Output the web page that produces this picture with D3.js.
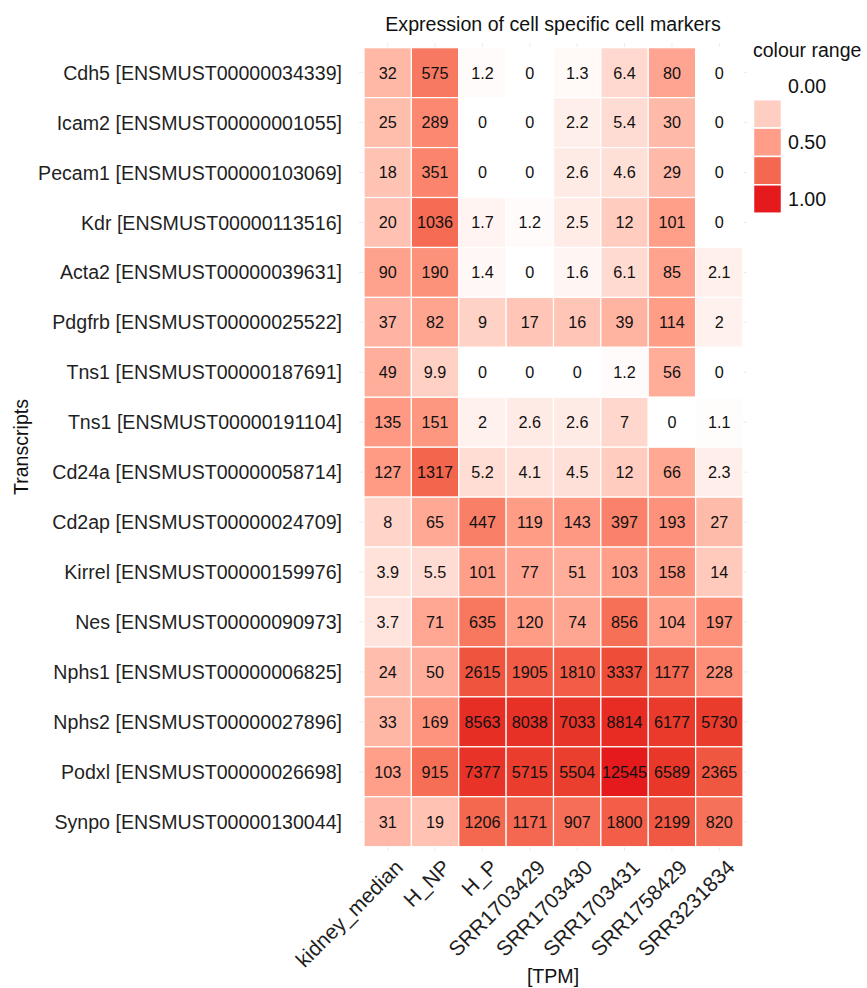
<!DOCTYPE html>
<html>
<head>
<meta charset="utf-8">
<script src="https://cdn.jsdelivr.net/npm/d3@7"></script>
<style>
  body { margin: 0; background: #fff; }
  svg text { font-family: "Liberation Sans", Arial, sans-serif; }
</style>
</head>
<body>
<svg id="chart" width="867" height="988"></svg>
<script>
// sample columns
var samples = ["kidney_median", "H_NP", "H_P", "SRR1703429", "SRR1703430", "SRR1703431", "SRR1758429", "SRR3231834"]

// transcripts, top to bottom
var transcripts = [
  "Cdh5 [ENSMUST00000034339]",
  "Icam2 [ENSMUST00000001055]",
  "Pecam1 [ENSMUST00000103069]",
  "Kdr [ENSMUST00000113516]",
  "Acta2 [ENSMUST00000039631]",
  "Pdgfrb [ENSMUST00000025522]",
  "Tns1 [ENSMUST00000187691]",
  "Tns1 [ENSMUST00000191104]",
  "Cd24a [ENSMUST00000058714]",
  "Cd2ap [ENSMUST00000024709]",
  "Kirrel [ENSMUST00000159976]",
  "Nes [ENSMUST00000090973]",
  "Nphs1 [ENSMUST00000006825]",
  "Nphs2 [ENSMUST00000027896]",
  "Podxl [ENSMUST00000026698]",
  "Synpo [ENSMUST00000130044]"
]

// TPM per sample (same order as transcripts)
var kidney_median = [32, 25, 18, 20, 90, 37, 49, 135, 127, 8, 3.9, 3.7, 24, 33, 103, 31]
var H_NP          = [575, 289, 351, 1036, 190, 82, 9.9, 151, 1317, 65, 5.5, 71, 50, 169, 915, 19]
var H_P           = [1.2, 0, 0, 1.7, 1.4, 9, 0, 2, 5.2, 447, 101, 635, 2615, 8563, 7377, 1206]
var SRR1703429    = [0, 0, 0, 1.2, 0, 17, 0, 2.6, 4.1, 119, 77, 120, 1905, 8038, 5715, 1171]
var SRR1703430    = [1.3, 2.2, 2.6, 2.5, 1.6, 16, 0, 2.6, 4.5, 143, 51, 74, 1810, 7033, 5504, 907]
var SRR1703431    = [6.4, 5.4, 4.6, 12, 6.1, 39, 1.2, 7, 12, 397, 103, 856, 3337, 8814, 12545, 1800]
var SRR1758429    = [80, 30, 29, 101, 85, 114, 56, 0, 66, 193, 158, 104, 1177, 6177, 6589, 2199]
var SRR3231834    = [0, 0, 0, 0, 2.1, 2, 0, 1.1, 2.3, 27, 14, 197, 228, 5730, 2365, 820]

var legendKeys = [0.25, 0.5, 0.75, 1]
var legendBreaks = [0, 0.5, 1]

var columns = [kidney_median, H_NP, H_P, SRR1703429, SRR1703430, SRR1703431, SRR1758429, SRR3231834]

// build long table
var cells = []
samples.forEach(function(s, j){
  transcripts.forEach(function(t, i){
    cells.push({sample: s, transcript: t, value: columns[j][i]})
  })
})

var maxLog = Math.log10(d3.max(cells, d => d.value))
var colour = d3.scaleLinear().domain([0, 1]).range(["#ffffff", "#e41a1c"]).interpolate(d3.interpolateLab)
function fillOf(v){
  if (v <= 0) return "#ffffff"   // log(0) is NA -> blank
  return colour(Math.log10(v) / maxLog)
}

var svg = d3.select("#chart")

var x = d3.scaleBand().domain(samples).range([364, 743])
var y = d3.scaleBand().domain(transcripts).range([47.7, 846.7])

var panel = {left: 359, right: 747, top: 43, bottom: 851}

// grid lines (theme_minimal)
svg.append("g").selectAll("line.v").data(samples).enter().append("line")
  .attr("x1", d => x(d) + x.bandwidth() / 2).attr("x2", d => x(d) + x.bandwidth() / 2)
  .attr("y1", panel.top).attr("y2", panel.bottom)
  .attr("stroke", "#ebebeb").attr("stroke-width", 1)
svg.append("g").selectAll("line.h").data(transcripts).enter().append("line")
  .attr("y1", d => y(d) + y.bandwidth() / 2).attr("y2", d => y(d) + y.bandwidth() / 2)
  .attr("x1", panel.left).attr("x2", panel.right)
  .attr("stroke", "#ebebeb").attr("stroke-width", 1)

// tiles
svg.append("g").selectAll("rect").data(cells).enter().append("rect")
  .attr("x", d => x(d.sample))
  .attr("y", d => y(d.transcript))
  .attr("width", x.bandwidth())
  .attr("height", y.bandwidth())
  .attr("fill", d => fillOf(d.value))
  .attr("stroke", "#ffffff")
  .attr("stroke-width", 1.2)

// values
svg.append("g").selectAll("text").data(cells).enter().append("text")
  .attr("x", d => x(d.sample) + x.bandwidth() / 2)
  .attr("y", d => y(d.transcript) + y.bandwidth() / 2)
  .attr("dy", "0.36em")
  .attr("text-anchor", "middle")
  .attr("font-size", 16.2)
  .attr("fill", "#111")
  .text(d => d.value)

// y labels
svg.append("g").selectAll("text").data(transcripts).enter().append("text")
  .attr("x", 342)
  .attr("y", d => y(d) + y.bandwidth() / 2)
  .attr("dy", "0.36em")
  .attr("text-anchor", "end")
  .attr("font-size", 19.6)
  .attr("fill", "#1f1f1f")
  .text(d => d)

// x labels rotated
svg.append("g").selectAll("text").data(samples).enter().append("text")
  .attr("transform", d => "translate(" + (x(d) + x.bandwidth() / 2 + 6) + ",858) rotate(-45)")
  .attr("dy", "0.72em")
  .attr("text-anchor", "end")
  .attr("font-size", 21)
  .attr("fill", "#1f1f1f")
  .text(d => d)

// titles
svg.append("text").attr("x", 553).attr("y", 31).attr("text-anchor", "middle")
  .attr("font-size", 19.6).attr("fill", "#111").text("Expression of cell specific cell markers")
svg.append("text").attr("x", 553).attr("y", 983).attr("text-anchor", "middle")
  .attr("font-size", 19.6).attr("fill", "#111").text("[TPM]")
svg.append("text").attr("transform", "translate(28,447) rotate(-90)").attr("text-anchor", "middle")
  .attr("font-size", 19.6).attr("fill", "#111").text("Transcripts")

// legend
var yl = d3.scaleLinear().domain([0, 1]).range([85.5, 199])
var keyH = yl(legendKeys[1]) - yl(legendKeys[0])
svg.append("text").attr("x", 753).attr("y", 57).attr("font-size", 19.5).attr("fill", "#111").text("colour range")
svg.append("g").selectAll("rect").data(legendKeys).enter().append("rect")
  .attr("x", 753.5).attr("y", d => yl(d) - keyH / 2)
  .attr("width", 28).attr("height", keyH)
  .attr("fill", d => colour(d))
  .attr("stroke", "#ffffff").attr("stroke-width", 1.5)
svg.append("g").selectAll("text").data(legendBreaks).enter().append("text")
  .attr("x", 788).attr("y", d => yl(d)).attr("dy", "0.36em")
  .attr("font-size", 19.6).attr("fill", "#111")
  .text(d => d3.format(".2f")(d))
</script>
</body>
</html>
